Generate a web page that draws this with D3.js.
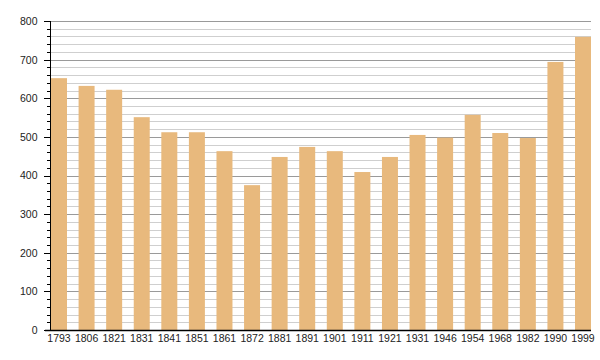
<!DOCTYPE html>
<html>
<head>
<meta charset="utf-8">
<script src="https://cdn.jsdelivr.net/npm/d3@7"></script>
<style>
  body { margin: 0; background: #fff; }
  text { font-family: "Liberation Sans", Arial, sans-serif; font-size: 10.5px; fill: #222; }
</style>
</head>
<body>
<svg id="chart" width="600" height="360"></svg>
<script>
const years = ['1793', '1806', '1821', '1831', '1841', '1851', '1861', '1872', '1881', '1891', '1901',
    '1911', '1921', '1931', '1946', '1954', '1968', '1982', '1990', '1999']
const population = [652, 632, 622, 551, 512, 512, 463, 375, 448, 474, 463,
    409, 448, 505, 498, 557, 510, 497, 694, 759]
const yTicks = [0, 100, 200, 300, 400, 500, 600, 700, 800]

const svg = d3.select('#chart')
const plotLeft = 50
const plotRight = 591
const plotTop = 21
const plotBottom = 330

const x = d3.scaleBand()
    .domain(years)
    .range([plotLeft + 1, plotRight])
    .paddingInner(0.42)
    .paddingOuter(0)

const y = d3.scaleLinear()
    .domain([0, 800])
    .range([plotBottom, plotTop])

// grid lines every 20, darker every 100
svg.append('g')
    .selectAll('line')
    .data(d3.range(20, 801, 20))
    .join('line')
    .attr('x1', plotLeft)
    .attr('x2', plotRight)
    .attr('y1', d => Math.round(y(d)) + 0.5)
    .attr('y2', d => Math.round(y(d)) + 0.5)
    .attr('stroke', d => d % 100 === 0 ? '#9a9a9a' : '#cfcfcf')
    .attr('stroke-width', 1)

svg.append('g')
    .selectAll('rect')
    .data(population)
    .join('rect')
    .attr('x', (d, i) => x(years[i]))
    .attr('width', x.bandwidth())
    .attr('y', d => y(d))
    .attr('height', d => plotBottom - y(d))
    .attr('fill', '#e8b97d')

// minor ticks on the y axis
svg.append('g')
    .selectAll('line')
    .data(d3.range(0, 801, 20))
    .join('line')
    .attr('x1', d => d % 100 === 0 ? plotLeft - 6 : plotLeft - 3)
    .attr('x2', plotLeft)
    .attr('y1', d => Math.round(y(d)) + 0.5)
    .attr('y2', d => Math.round(y(d)) + 0.5)
    .attr('stroke', '#000')

const yAxis = d3.axisLeft(y)
    .tickValues(yTicks)
    .tickSize(0)
    .tickPadding(13)

svg.append('g')
    .attr('transform', `translate(${plotLeft + 0.5},0)`)
    .call(yAxis)
    .call(g => g.select('.domain').attr('stroke', '#000').attr('d', `M0,${plotTop}V${plotBottom + 1}`))

const xAxis = d3.axisBottom(x)
    .tickSize(0)
    .tickPadding(4)

svg.append('g')
    .attr('transform', `translate(0,${plotBottom + 0.5})`)
    .call(xAxis)
    .call(g => g.select('.domain').attr('stroke', '#000').attr('stroke-width', 1.5).attr('d', `M${plotLeft - 5},0H${plotRight}`))
</script>
</body>
</html>
